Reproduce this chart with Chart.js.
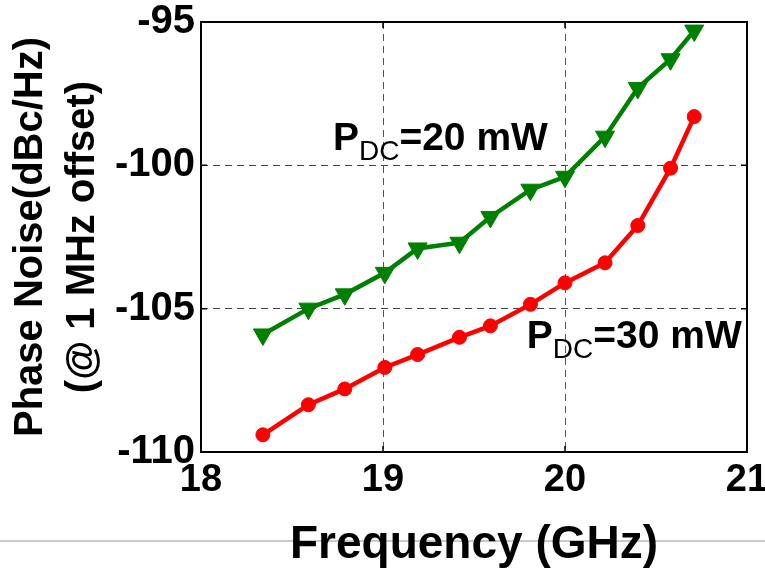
<!DOCTYPE html>
<html>
<head>
<meta charset="utf-8">
<script src="https://cdn.jsdelivr.net/npm/chart.js@4.4.0/dist/chart.umd.min.js"></script>
<style>
html, body { margin: 0; padding: 0; background: #fff; }
</style>
</head>
<body>
<canvas id="pn-chart" width="765" height="569"></canvas>
<script>
// Phase noise vs frequency
var freqs = [18.34, 18.59, 18.79, 19.01, 19.19, 19.42, 19.59, 19.81, 20.0, 20.22, 20.40, 20.58, 20.71];
var pn20mW = [-105.9, -105.0, -104.5, -103.75, -102.9, -102.7, -101.8, -100.85, -100.4, -99.0, -97.3, -96.3, -95.3];
var pn30mW = [-109.4, -108.35, -107.8, -107.05, -106.6, -106.0, -105.6, -104.85, -104.1, -103.4, -102.1, -100.1, -98.3];
var xTicks = [18, 19, 20, 21];
var yTicks = [-110, -105, -100, -95];
var notes = [
    { main: "P", sub: "DC", rest: "=20 mW", x: 18.725, y: -99.45 },
    { main: "P", sub: "DC", rest: "=30 mW", x: 19.79, y: -106.36 }
];

var FONT = '"Liberation Sans", Arial, sans-serif';

var toPoints = function (ys) {
    return freqs.map(function (f, i) { return { x: f, y: ys[i] }; });
};

var framePlugin = {
    id: 'frame',
    beforeDraw: function (chart) { // fondo blanco + linea gris de la pagina
        var ctx = chart.ctx;
        ctx.save();
        ctx.fillStyle = '#fff';
        ctx.fillRect(0, 0, chart.width, chart.height);
        ctx.strokeStyle = '#b9b9b9';
        ctx.lineWidth = 1.5;
        ctx.beginPath();
        ctx.moveTo(0, 541);
        ctx.lineTo(chart.width, 541);
        ctx.stroke();
        ctx.restore();
    },
    beforeDatasetsDraw: function (chart) { // marco negro y ticks interiores
        var ctx = chart.ctx;
        var a = chart.chartArea;
        var xs = chart.scales.x, ys = chart.scales.y;
        ctx.save();
        ctx.strokeStyle = '#000';
        ctx.lineWidth = 2;
        ctx.strokeRect(a.left, a.top, a.right - a.left, a.bottom - a.top);
        ctx.lineWidth = 1.5;
        ctx.beginPath();
        xTicks.forEach(function (v) {
            var px = xs.getPixelForValue(v);
            ctx.moveTo(px, a.bottom); ctx.lineTo(px, a.bottom - 6);
            ctx.moveTo(px, a.top); ctx.lineTo(px, a.top + 6);
        });
        yTicks.forEach(function (v) {
            var py = ys.getPixelForValue(v);
            ctx.moveTo(a.left, py); ctx.lineTo(a.left + 6, py);
            ctx.moveTo(a.right, py); ctx.lineTo(a.right - 6, py);
        });
        ctx.stroke();
        ctx.restore();
    },
    afterDatasetsDraw: function (chart) { // etiquetas P_DC
        var ctx = chart.ctx;
        var xs = chart.scales.x, ys = chart.scales.y;
        ctx.save();
        ctx.fillStyle = '#000';
        ctx.textBaseline = 'alphabetic';
        ctx.textAlign = 'left';
        notes.forEach(function (n) {
            var px = xs.getPixelForValue(n.x);
            var py = ys.getPixelForValue(n.y);
            ctx.font = 'bold 39px ' + FONT;
            ctx.fillText(n.main, px, py);
            px += ctx.measureText(n.main).width;
            ctx.font = '28px ' + FONT;
            ctx.fillText(n.sub, px, py + 10);
            px += ctx.measureText(n.sub).width;
            ctx.font = 'bold 39px ' + FONT;
            ctx.fillText(n.rest, px, py);
        });
        ctx.restore();
    }
};

var chart = new Chart(document.getElementById('pn-chart'), {
    type: 'line',
    data: {
        datasets: [{
            label: 'PDC=20 mW',
            data: toPoints(pn20mW),
            borderColor: 'rgb(0,128,0)',
            backgroundColor: 'rgb(0,128,0)',
            borderWidth: 4.5,
            pointStyle: 'triangle',
            pointRotation: 180,
            pointRadius: 11,
            pointBorderWidth: 1,
            tension: 0,
            clip: false
        }, {
            label: 'PDC=30 mW',
            data: toPoints(pn30mW),
            borderColor: 'rgb(255,0,0)',
            backgroundColor: 'rgb(255,0,0)',
            borderWidth: 4.5,
            pointStyle: 'circle',
            pointRadius: 7,
            pointBorderWidth: 1,
            tension: 0,
            clip: false
        }]
    },
    options: {
        responsive: false,
        animation: false,
        devicePixelRatio: 1,
        layout: { padding: { top: 22, right: 18, left: 0, bottom: 0 } },
        plugins: {
            legend: { display: false },
            tooltip: { enabled: false }
        },
        scales: {
            x: {
                type: 'linear',
                min: 18,
                max: 21,
                afterBuildTicks: function (scale) {
                    scale.ticks = xTicks.map(function (v) { return { value: v }; });
                },
                afterFit: function (scale) {
                    scale.height = 117;
                    scale.paddingLeft = 0;
                    scale.paddingRight = 0;
                },
                grid: { color: '#555', lineWidth: 1, drawTicks: false },
                border: { display: false, dash: [7, 5] },
                ticks: {
                    color: '#000',
                    padding: 10,
                    maxRotation: 0,
                    font: { family: FONT, size: 38, weight: 'bold', lineHeight: 1 }
                },
                title: {
                    display: true,
                    text: 'Frequency (GHz)',
                    color: '#000',
                    padding: { top: 0, bottom: 1 },
                    font: { family: FONT, size: 46, weight: 'bold', lineHeight: 1 }
                }
            },
            y: {
                type: 'linear',
                min: -110,
                max: -95,
                afterBuildTicks: function (scale) {
                    scale.ticks = yTicks.map(function (v) { return { value: v }; });
                },
                afterFit: function (scale) {
                    scale.width = 201;
                    scale.paddingTop = 0;
                    scale.paddingBottom = 0;
                },
                grid: { color: '#444', lineWidth: 1, drawTicks: false },
                border: { display: false, dash: [7, 5] },
                ticks: {
                    color: '#000',
                    padding: 6,
                    font: { family: FONT, size: 40, weight: 'bold', lineHeight: 1 }
                },
                title: {
                    display: true,
                    text: ['Phase Noise(dBc/Hz)', '(@ 1 MHz offset)'],
                    color: '#000',
                    padding: { top: 5, bottom: 0 },
                    font: { family: FONT, size: 40, weight: 'bold', lineHeight: 1.3 }
                }
            }
        }
    },
    plugins: [framePlugin]
});
</script>
</body>
</html>
